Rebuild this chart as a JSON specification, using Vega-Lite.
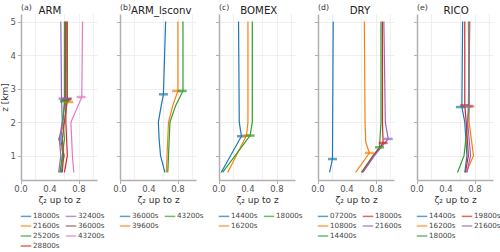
{
  "$schema": "https://vega.github.io/schema/vega-lite/v6.json",
  "padding": {"left": 0, "top": 4, "right": 0, "bottom": 0},
  "bounds": "flush",
  "spacing": 23,
  "datasets": {
    "grid": [{"g": 0.2}, {"g": 0.6}, {"g": 1.0}],
    "xlab": [{"v": 0}, {"v": 0.4}, {"v": 0.8}],
    "lines": [
      {"case": "ARM", "t": "18000s", "z": 0.5, "zeta": 0.56}, {"case": "ARM", "t": "18000s", "z": 1.0, "zeta": 0.58}, {"case": "ARM", "t": "18000s", "z": 1.5, "zeta": 0.55}, {"case": "ARM", "t": "18000s", "z": 2.0, "zeta": 0.57}, {"case": "ARM", "t": "18000s", "z": 2.5, "zeta": 0.6}, {"case": "ARM", "t": "18000s", "z": 2.65, "zeta": 0.61}, {"case": "ARM", "t": "18000s", "z": 5.0, "zeta": 0.61},
      {"case": "ARM", "t": "21600s", "z": 0.5, "zeta": 0.53}, {"case": "ARM", "t": "21600s", "z": 1.0, "zeta": 0.6}, {"case": "ARM", "t": "21600s", "z": 1.5, "zeta": 0.52}, {"case": "ARM", "t": "21600s", "z": 2.0, "zeta": 0.6}, {"case": "ARM", "t": "21600s", "z": 2.6, "zeta": 0.64}, {"case": "ARM", "t": "21600s", "z": 5.0, "zeta": 0.63},
      {"case": "ARM", "t": "25200s", "z": 0.5, "zeta": 0.54}, {"case": "ARM", "t": "25200s", "z": 1.0, "zeta": 0.57}, {"case": "ARM", "t": "25200s", "z": 1.5, "zeta": 0.6}, {"case": "ARM", "t": "25200s", "z": 2.0, "zeta": 0.58}, {"case": "ARM", "t": "25200s", "z": 2.62, "zeta": 0.6}, {"case": "ARM", "t": "25200s", "z": 5.0, "zeta": 0.6},
      {"case": "ARM", "t": "28800s", "z": 0.5, "zeta": 0.6}, {"case": "ARM", "t": "28800s", "z": 1.0, "zeta": 0.64}, {"case": "ARM", "t": "28800s", "z": 1.5, "zeta": 0.63}, {"case": "ARM", "t": "28800s", "z": 2.0, "zeta": 0.62}, {"case": "ARM", "t": "28800s", "z": 2.68, "zeta": 0.62}, {"case": "ARM", "t": "28800s", "z": 5.0, "zeta": 0.62},
      {"case": "ARM", "t": "32400s", "z": 0.5, "zeta": 0.52}, {"case": "ARM", "t": "32400s", "z": 1.0, "zeta": 0.55}, {"case": "ARM", "t": "32400s", "z": 1.5, "zeta": 0.53}, {"case": "ARM", "t": "32400s", "z": 2.0, "zeta": 0.57}, {"case": "ARM", "t": "32400s", "z": 2.7, "zeta": 0.56}, {"case": "ARM", "t": "32400s", "z": 5.0, "zeta": 0.55},
      {"case": "ARM", "t": "36000s", "z": 0.5, "zeta": 0.57}, {"case": "ARM", "t": "36000s", "z": 1.0, "zeta": 0.59}, {"case": "ARM", "t": "36000s", "z": 1.5, "zeta": 0.57}, {"case": "ARM", "t": "36000s", "z": 2.0, "zeta": 0.6}, {"case": "ARM", "t": "36000s", "z": 2.7, "zeta": 0.64}, {"case": "ARM", "t": "36000s", "z": 5.0, "zeta": 0.64},
      {"case": "ARM", "t": "43200s", "z": 0.5, "zeta": 0.73}, {"case": "ARM", "t": "43200s", "z": 1.0, "zeta": 0.71}, {"case": "ARM", "t": "43200s", "z": 1.5, "zeta": 0.7}, {"case": "ARM", "t": "43200s", "z": 2.0, "zeta": 0.69}, {"case": "ARM", "t": "43200s", "z": 2.5, "zeta": 0.79}, {"case": "ARM", "t": "43200s", "z": 2.75, "zeta": 0.84}, {"case": "ARM", "t": "43200s", "z": 5.0, "zeta": 0.85},

      {"case": "ARM_lsconv", "t": "36000s", "z": 0.5, "zeta": 0.62}, {"case": "ARM_lsconv", "t": "36000s", "z": 1.0, "zeta": 0.56}, {"case": "ARM_lsconv", "t": "36000s", "z": 1.5, "zeta": 0.54}, {"case": "ARM_lsconv", "t": "36000s", "z": 2.0, "zeta": 0.53}, {"case": "ARM_lsconv", "t": "36000s", "z": 2.5, "zeta": 0.57}, {"case": "ARM_lsconv", "t": "36000s", "z": 2.83, "zeta": 0.6}, {"case": "ARM_lsconv", "t": "36000s", "z": 5.0, "zeta": 0.63},
      {"case": "ARM_lsconv", "t": "39600s", "z": 0.5, "zeta": 0.64}, {"case": "ARM_lsconv", "t": "39600s", "z": 1.0, "zeta": 0.65}, {"case": "ARM_lsconv", "t": "39600s", "z": 1.5, "zeta": 0.66}, {"case": "ARM_lsconv", "t": "39600s", "z": 2.0, "zeta": 0.67}, {"case": "ARM_lsconv", "t": "39600s", "z": 2.5, "zeta": 0.73}, {"case": "ARM_lsconv", "t": "39600s", "z": 2.93, "zeta": 0.8}, {"case": "ARM_lsconv", "t": "39600s", "z": 5.0, "zeta": 0.8},
      {"case": "ARM_lsconv", "t": "43200s", "z": 0.5, "zeta": 0.66}, {"case": "ARM_lsconv", "t": "43200s", "z": 1.0, "zeta": 0.67}, {"case": "ARM_lsconv", "t": "43200s", "z": 1.5, "zeta": 0.68}, {"case": "ARM_lsconv", "t": "43200s", "z": 2.0, "zeta": 0.69}, {"case": "ARM_lsconv", "t": "43200s", "z": 2.5, "zeta": 0.77}, {"case": "ARM_lsconv", "t": "43200s", "z": 2.93, "zeta": 0.87}, {"case": "ARM_lsconv", "t": "43200s", "z": 5.0, "zeta": 0.87},

      {"case": "BOMEX", "t": "14400s", "z": 0.5, "zeta": 0.03}, {"case": "BOMEX", "t": "14400s", "z": 1.58, "zeta": 0.31}, {"case": "BOMEX", "t": "14400s", "z": 2.0, "zeta": 0.28}, {"case": "BOMEX", "t": "14400s", "z": 5.0, "zeta": 0.27},
      {"case": "BOMEX", "t": "16200s", "z": 0.5, "zeta": 0.12}, {"case": "BOMEX", "t": "16200s", "z": 1.6, "zeta": 0.38}, {"case": "BOMEX", "t": "16200s", "z": 2.0, "zeta": 0.4}, {"case": "BOMEX", "t": "16200s", "z": 5.0, "zeta": 0.4},
      {"case": "BOMEX", "t": "18000s", "z": 0.5, "zeta": 0.05}, {"case": "BOMEX", "t": "18000s", "z": 1.6, "zeta": 0.43}, {"case": "BOMEX", "t": "18000s", "z": 2.0, "zeta": 0.46}, {"case": "BOMEX", "t": "18000s", "z": 5.0, "zeta": 0.46},

      {"case": "DRY", "t": "07200s", "z": 0.5, "zeta": 0.16}, {"case": "DRY", "t": "07200s", "z": 0.9, "zeta": 0.2}, {"case": "DRY", "t": "07200s", "z": 5.0, "zeta": 0.21},
      {"case": "DRY", "t": "10800s", "z": 0.5, "zeta": 0.52}, {"case": "DRY", "t": "10800s", "z": 1.08, "zeta": 0.71}, {"case": "DRY", "t": "10800s", "z": 1.4, "zeta": 0.66}, {"case": "DRY", "t": "10800s", "z": 2.0, "zeta": 0.65}, {"case": "DRY", "t": "10800s", "z": 5.0, "zeta": 0.64},
      {"case": "DRY", "t": "14400s", "z": 0.5, "zeta": 0.6}, {"case": "DRY", "t": "14400s", "z": 1.0, "zeta": 0.76}, {"case": "DRY", "t": "14400s", "z": 1.25, "zeta": 0.85}, {"case": "DRY", "t": "14400s", "z": 2.0, "zeta": 0.87}, {"case": "DRY", "t": "14400s", "z": 5.0, "zeta": 0.87},
      {"case": "DRY", "t": "18000s", "z": 0.5, "zeta": 0.61}, {"case": "DRY", "t": "18000s", "z": 1.0, "zeta": 0.77}, {"case": "DRY", "t": "18000s", "z": 1.38, "zeta": 0.9}, {"case": "DRY", "t": "18000s", "z": 2.0, "zeta": 0.89}, {"case": "DRY", "t": "18000s", "z": 5.0, "zeta": 0.89},
      {"case": "DRY", "t": "21600s", "z": 0.5, "zeta": 0.62}, {"case": "DRY", "t": "21600s", "z": 1.0, "zeta": 0.78}, {"case": "DRY", "t": "21600s", "z": 1.5, "zeta": 0.97}, {"case": "DRY", "t": "21600s", "z": 2.0, "zeta": 0.93}, {"case": "DRY", "t": "21600s", "z": 5.0, "zeta": 0.91},

      {"case": "RICO", "t": "14400s", "z": 0.5, "zeta": 0.66}, {"case": "RICO", "t": "14400s", "z": 1.0, "zeta": 0.69}, {"case": "RICO", "t": "14400s", "z": 2.0, "zeta": 0.66}, {"case": "RICO", "t": "14400s", "z": 2.45, "zeta": 0.62}, {"case": "RICO", "t": "14400s", "z": 5.0, "zeta": 0.63},
      {"case": "RICO", "t": "16200s", "z": 0.5, "zeta": 0.68}, {"case": "RICO", "t": "16200s", "z": 1.0, "zeta": 0.78}, {"case": "RICO", "t": "16200s", "z": 2.0, "zeta": 0.72}, {"case": "RICO", "t": "16200s", "z": 2.47, "zeta": 0.72}, {"case": "RICO", "t": "16200s", "z": 5.0, "zeta": 0.71},
      {"case": "RICO", "t": "18000s", "z": 0.5, "zeta": 0.56}, {"case": "RICO", "t": "18000s", "z": 1.0, "zeta": 0.65}, {"case": "RICO", "t": "18000s", "z": 2.0, "zeta": 0.7}, {"case": "RICO", "t": "18000s", "z": 2.47, "zeta": 0.72}, {"case": "RICO", "t": "18000s", "z": 5.0, "zeta": 0.72},
      {"case": "RICO", "t": "19800s", "z": 0.5, "zeta": 0.67}, {"case": "RICO", "t": "19800s", "z": 1.0, "zeta": 0.71}, {"case": "RICO", "t": "19800s", "z": 2.0, "zeta": 0.68}, {"case": "RICO", "t": "19800s", "z": 2.5, "zeta": 0.66}, {"case": "RICO", "t": "19800s", "z": 5.0, "zeta": 0.66},
      {"case": "RICO", "t": "21600s", "z": 0.5, "zeta": 0.69}, {"case": "RICO", "t": "21600s", "z": 1.0, "zeta": 0.74}, {"case": "RICO", "t": "21600s", "z": 2.0, "zeta": 0.7}, {"case": "RICO", "t": "21600s", "z": 2.48, "zeta": 0.71}, {"case": "RICO", "t": "21600s", "z": 5.0, "zeta": 0.73}
    ],
    "marks": [
      {"case": "ARM", "t": "18000s", "z": 2.65, "zeta": 0.61},
      {"case": "ARM", "t": "21600s", "z": 2.6, "zeta": 0.66},
      {"case": "ARM", "t": "25200s", "z": 2.62, "zeta": 0.6},
      {"case": "ARM", "t": "28800s", "z": 2.68, "zeta": 0.63},
      {"case": "ARM", "t": "36000s", "z": 2.7, "zeta": 0.64},
      {"case": "ARM", "t": "32400s", "z": 2.7, "zeta": 0.58},
      {"case": "ARM", "t": "43200s", "z": 2.75, "zeta": 0.83},
      {"case": "ARM_lsconv", "t": "36000s", "z": 2.83, "zeta": 0.6},
      {"case": "ARM_lsconv", "t": "39600s", "z": 2.93, "zeta": 0.78},
      {"case": "ARM_lsconv", "t": "43200s", "z": 2.93, "zeta": 0.86},
      {"case": "BOMEX", "t": "14400s", "z": 1.58, "zeta": 0.31},
      {"case": "BOMEX", "t": "16200s", "z": 1.6, "zeta": 0.38},
      {"case": "BOMEX", "t": "18000s", "z": 1.6, "zeta": 0.43},
      {"case": "DRY", "t": "07200s", "z": 0.9, "zeta": 0.2},
      {"case": "DRY", "t": "10800s", "z": 1.08, "zeta": 0.71},
      {"case": "DRY", "t": "14400s", "z": 1.25, "zeta": 0.85},
      {"case": "DRY", "t": "18000s", "z": 1.38, "zeta": 0.9},
      {"case": "DRY", "t": "21600s", "z": 1.5, "zeta": 0.97},
      {"case": "RICO", "t": "18000s", "z": 2.47, "zeta": 0.7},
      {"case": "RICO", "t": "14400s", "z": 2.45, "zeta": 0.6},
      {"case": "RICO", "t": "19800s", "z": 2.5, "zeta": 0.66},
      {"case": "RICO", "t": "16200s", "z": 2.47, "zeta": 0.73},
      {"case": "RICO", "t": "21600s", "z": 2.48, "zeta": 0.71}
    ]
  },
  "resolve": {"scale": {"color": "independent"}, "legend": {"color": "independent"}},
  "hconcat": [
    {
      "width": 76, "height": 166,
      "layer": [
        {"data": {"name": "grid"}, "mark": {"type": "rule", "color": "#ebebeb", "strokeWidth": 0.8}, "encoding": {"x": {"field": "g", "type": "quantitative"}}},
        {"data": {"name": "lines"}, "transform": [{"filter": "datum.case === 'ARM'"}],
         "mark": {"type": "line", "strokeWidth": 1.2},
         "encoding": {
           "x": {"field": "zeta", "type": "quantitative", "scale": {"domain": [0, 1.05], "nice": false, "zero": false}, "axis": {"values": [0, 0.4, 0.8], "labels": false, "titlePadding": 11.5, "title": "ζ₂ up to z"}},
           "y": {"field": "z", "type": "quantitative", "scale": {"domain": [0.275, 5.225], "nice": false, "zero": false}, "axis": {"values": [1, 2, 3, 4, 5], "title": "z [km]"}},
           "color": {"field": "t", "type": "nominal", "scale": {"domain": ["18000s", "32400s", "21600s", "36000s", "25200s", "43200s", "28800s"], "range": ["#1f77b4", "#9467bd", "#ff7f0e", "#8c564b", "#2ca02c", "#e377c2", "#d62728"]}, "legend": {"columns": 2}},
           "order": {"field": "z", "type": "quantitative"}
         }},
        {"data": {"name": "marks"}, "transform": [{"filter": "datum.case === 'ARM'"}],
         "mark": {"type": "tick", "orient": "horizontal", "size": 9, "thickness": 2.5},
         "encoding": {
           "x": {"field": "zeta", "type": "quantitative"},
           "y": {"field": "z", "type": "quantitative"},
           "color": {"field": "t", "type": "nominal"}
         }},
        {"data": {"name": "xlab"},
         "mark": {"type": "text", "align": "center", "baseline": "top", "fontSize": 8.5, "color": "#555555"},
         "encoding": {"x": {"field": "v", "type": "quantitative"}, "y": {"datum": 0.112}, "text": {"field": "v", "type": "quantitative", "format": ".1f"}}},
        {"data": {"values": [{"label": "(a)"}]},
         "mark": {"type": "text", "align": "left", "baseline": "middle", "fontSize": 7.8, "color": "#333333"},
         "encoding": {"x": {"datum": 0}, "y": {"datum": 5.4}, "text": {"field": "label"}}},
        {"data": {"values": [{"label": "ARM"}]},
         "mark": {"type": "text", "align": "center", "baseline": "middle", "fontSize": 10.2, "color": "#222222"},
         "encoding": {"x": {"datum": 0.4}, "y": {"datum": 5.32}, "text": {"field": "label"}}}
      ]
    },
    {
      "width": 76, "height": 166,
      "layer": [
        {"data": {"name": "grid"}, "mark": {"type": "rule", "color": "#ebebeb", "strokeWidth": 0.8}, "encoding": {"x": {"field": "g", "type": "quantitative"}}},
        {"data": {"name": "lines"}, "transform": [{"filter": "datum.case === 'ARM_lsconv'"}],
         "mark": {"type": "line", "strokeWidth": 1.2},
         "encoding": {
           "x": {"field": "zeta", "type": "quantitative", "scale": {"domain": [0, 1.05], "nice": false, "zero": false}, "axis": {"values": [0, 0.4, 0.8], "labels": false, "titlePadding": 11.5, "title": "ζ₂ up to z"}},
           "y": {"field": "z", "type": "quantitative", "scale": {"domain": [0.275, 5.225], "nice": false, "zero": false}, "axis": {"values": [1, 2, 3, 4, 5], "labels": false, "title": null}},
           "color": {"field": "t", "type": "nominal", "scale": {"domain": ["36000s", "43200s", "39600s"], "range": ["#1f77b4", "#2ca02c", "#ff7f0e"]}, "legend": {"columns": 2}},
           "order": {"field": "z", "type": "quantitative"}
         }},
        {"data": {"name": "marks"}, "transform": [{"filter": "datum.case === 'ARM_lsconv'"}],
         "mark": {"type": "tick", "orient": "horizontal", "size": 9, "thickness": 2.5},
         "encoding": {
           "x": {"field": "zeta", "type": "quantitative"},
           "y": {"field": "z", "type": "quantitative"},
           "color": {"field": "t", "type": "nominal"}
         }},
        {"data": {"name": "xlab"},
         "mark": {"type": "text", "align": "center", "baseline": "top", "fontSize": 8.5, "color": "#555555"},
         "encoding": {"x": {"field": "v", "type": "quantitative"}, "y": {"datum": 0.112}, "text": {"field": "v", "type": "quantitative", "format": ".1f"}}},
        {"data": {"values": [{"label": "(b)"}]},
         "mark": {"type": "text", "align": "left", "baseline": "middle", "fontSize": 7.8, "color": "#333333"},
         "encoding": {"x": {"datum": 0}, "y": {"datum": 5.4}, "text": {"field": "label"}}},
        {"data": {"values": [{"label": "ARM_lsconv"}]},
         "mark": {"type": "text", "align": "center", "baseline": "middle", "fontSize": 10.2, "color": "#222222"},
         "encoding": {"x": {"datum": 0.57}, "y": {"datum": 5.32}, "text": {"field": "label"}}}
      ]
    },
    {
      "width": 76, "height": 166,
      "layer": [
        {"data": {"name": "grid"}, "mark": {"type": "rule", "color": "#ebebeb", "strokeWidth": 0.8}, "encoding": {"x": {"field": "g", "type": "quantitative"}}},
        {"data": {"name": "lines"}, "transform": [{"filter": "datum.case === 'BOMEX'"}],
         "mark": {"type": "line", "strokeWidth": 1.2},
         "encoding": {
           "x": {"field": "zeta", "type": "quantitative", "scale": {"domain": [0, 1.05], "nice": false, "zero": false}, "axis": {"values": [0, 0.4, 0.8], "labels": false, "titlePadding": 11.5, "title": "ζ₂ up to z"}},
           "y": {"field": "z", "type": "quantitative", "scale": {"domain": [0.275, 5.225], "nice": false, "zero": false}, "axis": {"values": [1, 2, 3, 4, 5], "labels": false, "title": null}},
           "color": {"field": "t", "type": "nominal", "scale": {"domain": ["14400s", "18000s", "16200s"], "range": ["#1f77b4", "#2ca02c", "#ff7f0e"]}, "legend": {"columns": 2}},
           "order": {"field": "z", "type": "quantitative"}
         }},
        {"data": {"name": "marks"}, "transform": [{"filter": "datum.case === 'BOMEX'"}],
         "mark": {"type": "tick", "orient": "horizontal", "size": 9, "thickness": 2.5},
         "encoding": {
           "x": {"field": "zeta", "type": "quantitative"},
           "y": {"field": "z", "type": "quantitative"},
           "color": {"field": "t", "type": "nominal"}
         }},
        {"data": {"name": "xlab"},
         "mark": {"type": "text", "align": "center", "baseline": "top", "fontSize": 8.5, "color": "#555555"},
         "encoding": {"x": {"field": "v", "type": "quantitative"}, "y": {"datum": 0.112}, "text": {"field": "v", "type": "quantitative", "format": ".1f"}}},
        {"data": {"values": [{"label": "(c)"}]},
         "mark": {"type": "text", "align": "left", "baseline": "middle", "fontSize": 7.8, "color": "#333333"},
         "encoding": {"x": {"datum": 0}, "y": {"datum": 5.4}, "text": {"field": "label"}}},
        {"data": {"values": [{"label": "BOMEX"}]},
         "mark": {"type": "text", "align": "center", "baseline": "middle", "fontSize": 10.2, "color": "#222222"},
         "encoding": {"x": {"datum": 0.55}, "y": {"datum": 5.32}, "text": {"field": "label"}}}
      ]
    },
    {
      "width": 76, "height": 166,
      "layer": [
        {"data": {"name": "grid"}, "mark": {"type": "rule", "color": "#ebebeb", "strokeWidth": 0.8}, "encoding": {"x": {"field": "g", "type": "quantitative"}}},
        {"data": {"name": "lines"}, "transform": [{"filter": "datum.case === 'DRY'"}],
         "mark": {"type": "line", "strokeWidth": 1.2},
         "encoding": {
           "x": {"field": "zeta", "type": "quantitative", "scale": {"domain": [0, 1.05], "nice": false, "zero": false}, "axis": {"values": [0, 0.4, 0.8], "labels": false, "titlePadding": 11.5, "title": "ζ₂ up to z"}},
           "y": {"field": "z", "type": "quantitative", "scale": {"domain": [0.275, 5.225], "nice": false, "zero": false}, "axis": {"values": [1, 2, 3, 4, 5], "labels": false, "title": null}},
           "color": {"field": "t", "type": "nominal", "scale": {"domain": ["07200s", "18000s", "10800s", "21600s", "14400s"], "range": ["#1f77b4", "#d62728", "#ff7f0e", "#9467bd", "#2ca02c"]}, "legend": {"columns": 2}},
           "order": {"field": "z", "type": "quantitative"}
         }},
        {"data": {"name": "marks"}, "transform": [{"filter": "datum.case === 'DRY'"}],
         "mark": {"type": "tick", "orient": "horizontal", "size": 9, "thickness": 2.5},
         "encoding": {
           "x": {"field": "zeta", "type": "quantitative"},
           "y": {"field": "z", "type": "quantitative"},
           "color": {"field": "t", "type": "nominal"}
         }},
        {"data": {"name": "xlab"},
         "mark": {"type": "text", "align": "center", "baseline": "top", "fontSize": 8.5, "color": "#555555"},
         "encoding": {"x": {"field": "v", "type": "quantitative"}, "y": {"datum": 0.112}, "text": {"field": "v", "type": "quantitative", "format": ".1f"}}},
        {"data": {"values": [{"label": "(d)"}]},
         "mark": {"type": "text", "align": "left", "baseline": "middle", "fontSize": 7.8, "color": "#333333"},
         "encoding": {"x": {"datum": 0}, "y": {"datum": 5.4}, "text": {"field": "label"}}},
        {"data": {"values": [{"label": "DRY"}]},
         "mark": {"type": "text", "align": "center", "baseline": "middle", "fontSize": 10.2, "color": "#222222"},
         "encoding": {"x": {"datum": 0.58}, "y": {"datum": 5.32}, "text": {"field": "label"}}}
      ]
    },
    {
      "width": 76, "height": 166,
      "layer": [
        {"data": {"name": "grid"}, "mark": {"type": "rule", "color": "#ebebeb", "strokeWidth": 0.8}, "encoding": {"x": {"field": "g", "type": "quantitative"}}},
        {"data": {"name": "lines"}, "transform": [{"filter": "datum.case === 'RICO'"}],
         "mark": {"type": "line", "strokeWidth": 1.2},
         "encoding": {
           "x": {"field": "zeta", "type": "quantitative", "scale": {"domain": [0, 1.05], "nice": false, "zero": false}, "axis": {"values": [0, 0.4, 0.8], "labels": false, "titlePadding": 11.5, "title": "ζ₂ up to z"}},
           "y": {"field": "z", "type": "quantitative", "scale": {"domain": [0.275, 5.225], "nice": false, "zero": false}, "axis": {"values": [1, 2, 3, 4, 5], "labels": false, "title": null}},
           "color": {"field": "t", "type": "nominal", "scale": {"domain": ["14400s", "19800s", "16200s", "21600s", "18000s"], "range": ["#1f77b4", "#d62728", "#ff7f0e", "#9467bd", "#2ca02c"]}, "legend": {"columns": 2}},
           "order": {"field": "z", "type": "quantitative"}
         }},
        {"data": {"name": "marks"}, "transform": [{"filter": "datum.case === 'RICO'"}],
         "mark": {"type": "tick", "orient": "horizontal", "size": 9, "thickness": 2.5},
         "encoding": {
           "x": {"field": "zeta", "type": "quantitative"},
           "y": {"field": "z", "type": "quantitative"},
           "color": {"field": "t", "type": "nominal"}
         }},
        {"data": {"name": "xlab"},
         "mark": {"type": "text", "align": "center", "baseline": "top", "fontSize": 8.5, "color": "#555555"},
         "encoding": {"x": {"field": "v", "type": "quantitative"}, "y": {"datum": 0.112}, "text": {"field": "v", "type": "quantitative", "format": ".1f"}}},
        {"data": {"values": [{"label": "(e)"}]},
         "mark": {"type": "text", "align": "left", "baseline": "middle", "fontSize": 7.8, "color": "#333333"},
         "encoding": {"x": {"datum": 0}, "y": {"datum": 5.4}, "text": {"field": "label"}}},
        {"data": {"values": [{"label": "RICO"}]},
         "mark": {"type": "text", "align": "center", "baseline": "middle", "fontSize": 10.2, "color": "#222222"},
         "encoding": {"x": {"datum": 0.54}, "y": {"datum": 5.32}, "text": {"field": "label"}}}
      ]
    }
  ],
  "config": {
    "font": "DejaVu Sans",
    "view": {"stroke": null},
    "axis": {
      "domainColor": "#b0b0b0", "domainWidth": 1.5, "tickColor": "#b0b0b0", "tickSize": 3.5, "tickWidth": 1,
      "gridColor": "#ebebeb", "gridWidth": 0.8,
      "labelFont": "DejaVu Sans", "labelFontSize": 8.5, "labelColor": "#555555", "labelPadding": 2,
      "titleFont": "DejaVu Sans", "titleFontSize": 9, "titleFontWeight": "normal", "titleColor": "#333333", "titlePadding": 1
    },
    "legend": {
      "orient": "none", "legendX": -1, "legendY": 196, "direction": "horizontal", "title": null, "symbolType": "stroke", "symbolStrokeWidth": 1.5, "symbolSize": 110,
      "labelFont": "DejaVu Sans", "labelFontSize": 7.2, "labelColor": "#444444", "labelOffset": 1,
      "rowPadding": 0, "columnPadding": 2, "padding": 0
    }
  }
}
